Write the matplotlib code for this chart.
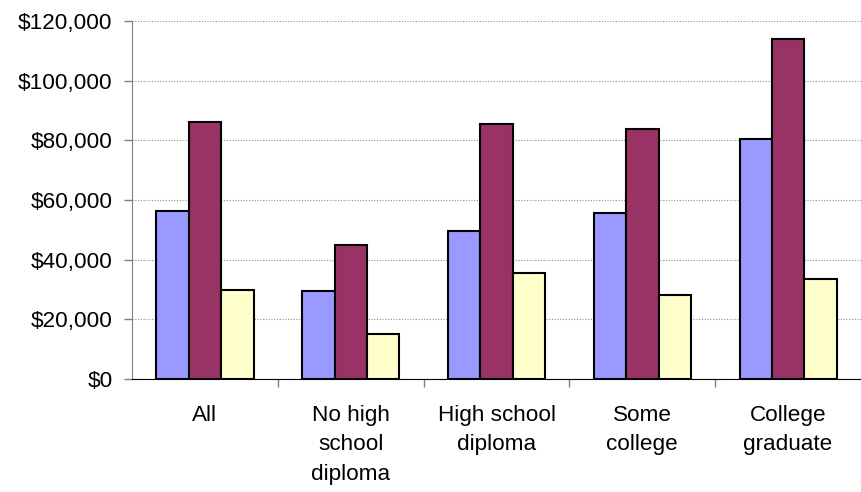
import numpy as np
import matplotlib.pyplot as plt
from matplotlib.ticker import FuncFormatter

categories = ['All', 'No high\nschool\ndiploma', 'High school\ndiploma', 'Some\ncollege', 'College\ngraduate']
series_a = [56200, 29400, 49700, 55500, 80300]   # blue
series_b = [86000, 44800, 85500, 83900, 113900]  # purple
series_c = [29800, 15200, 35600, 28200, 33400]   # yellow
colors = ['#9999FF', '#993366', '#FFFFCC']

plt.rcParams['font.family'] = ['Liberation Sans', 'DejaVu Sans']

fig = plt.figure(figsize=(8.61, 4.92), dpi=100)
ax = fig.add_axes([132/861, 1 - 379/492, 729/861, 358/492])

x = np.arange(len(categories))
w = 1 / 4.5
for k, (vals, c) in enumerate(zip([series_a, series_b, series_c], colors)):
    ax.bar(x + (k - 1) * w, vals, w, color=c, edgecolor='black', linewidth=1.5, zorder=3)

ax.set_xlim(-0.5, len(categories) - 0.5)
ax.set_ylim(0, 120000)
ax.set_yticks(np.arange(0, 120001, 20000))
ax.yaxis.set_major_formatter(FuncFormatter(lambda v, p: '${:,.0f}'.format(v)))
ax.grid(axis='y', color='#909090', linestyle=(0, (1, 1.5)), linewidth=0.8, zorder=0)

ax.set_xticks(x)
ax.set_xticklabels(categories, linespacing=1.55)
ax.set_xticks(np.arange(0.5, len(categories) - 0.5, 1), minor=True)
ax.tick_params(axis='x', which='major', length=0, pad=18.5, labelsize=16.2)
ax.tick_params(axis='x', which='minor', length=6, width=1, color='#808080')
ax.tick_params(axis='y', length=6, width=1, color='#808080', pad=8, labelsize=16.2)

for s in ['top', 'right']:
    ax.spines[s].set_visible(False)
ax.spines['left'].set_color('#808080')
ax.spines['bottom'].set_color('black')

fig.savefig('out.png', dpi=100)
